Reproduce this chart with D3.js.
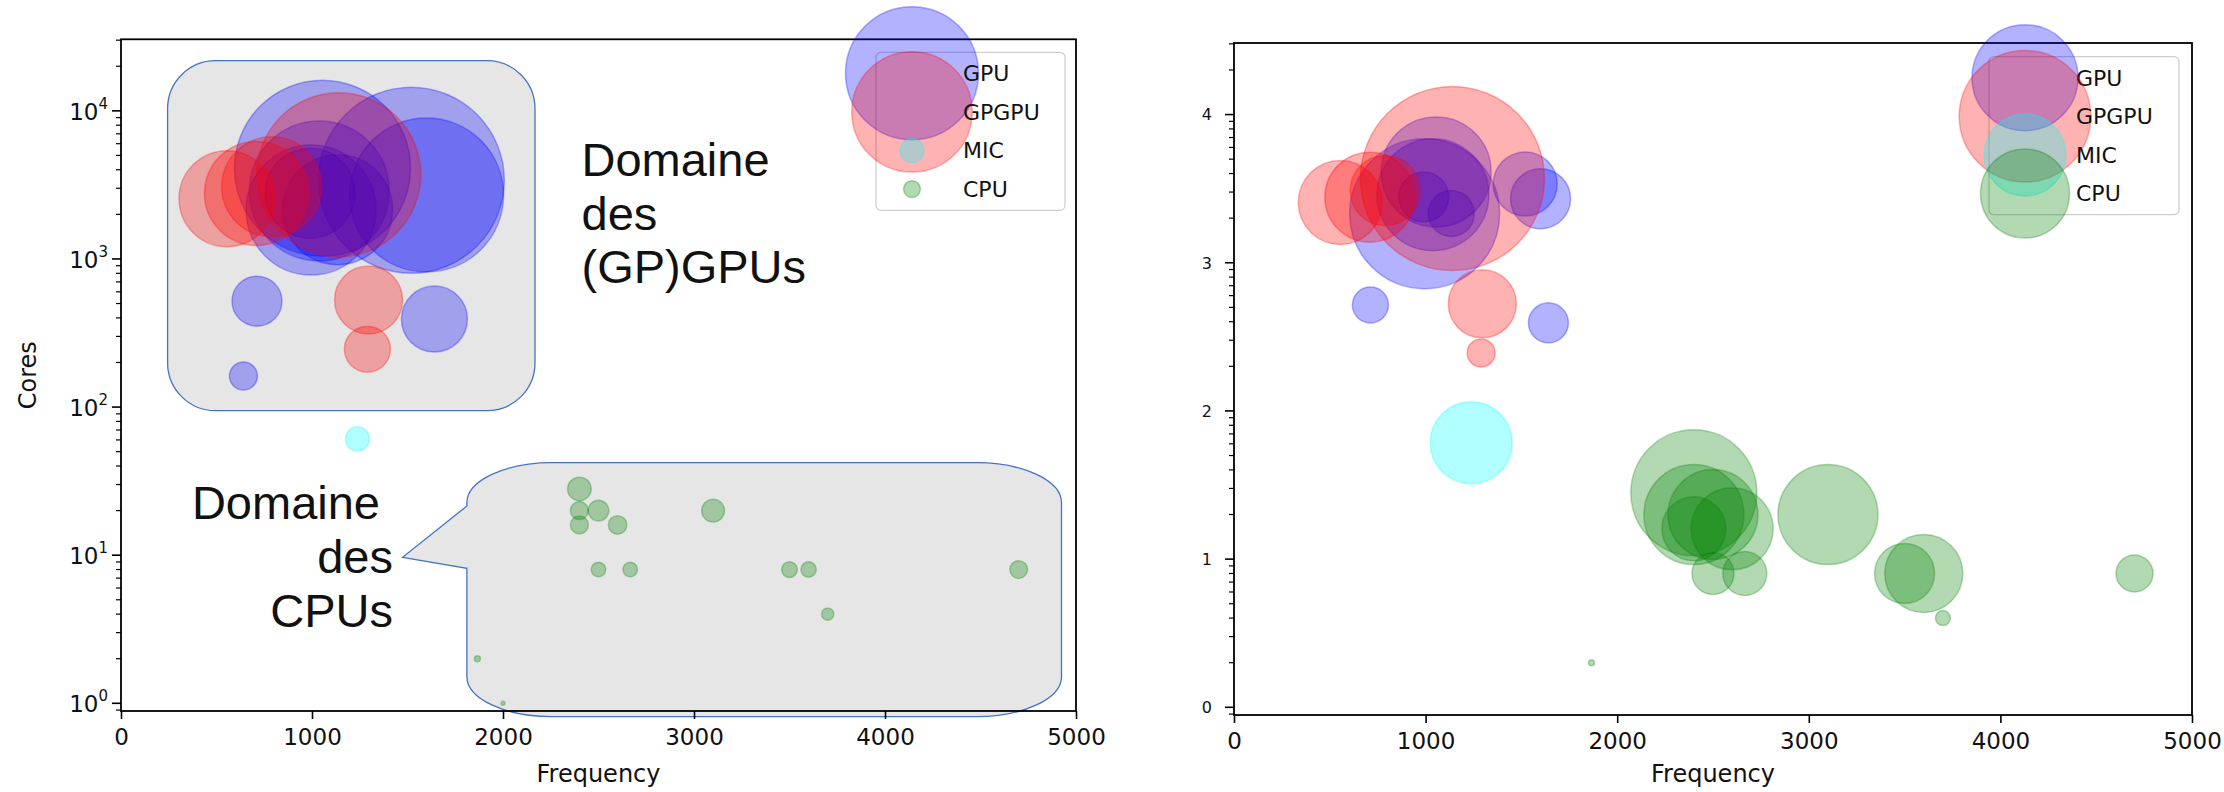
<!DOCTYPE html>
<html>
<head>
<meta charset="utf-8">
<script src="https://cdn.jsdelivr.net/npm/d3@7"></script>
<style>
  html, body { margin: 0; padding: 0; background: #fff; }
  svg { display: block; }
  text { font-family: "DejaVu Sans", sans-serif; fill: #111; }
</style>
</head>
<body>
<svg id="chart" width="2224" height="792"></svg>
<script>
// ---------- data ----------
const categories = ["GPU", "GPGPU", "MIC", "CPU"];
const xTickValues = [0, 1000, 2000, 3000, 4000, 5000];
const yTickExponents = [0, 1, 2, 3, 4];

// frequency (MHz), core count, and the bubble value of each panel
const gpuFreq   = [641, 712, 1641, 1055, 1520, 1600, 1038, 990, 1134, 995];
const gpuCores  = [162, 519, 393, 4096, 3400, 2700, 2880, 2780, 2150, 2140];
const gpuLeft   = [196, 625, 1089, 7744, 8649, 5929, 4900, 2025, 3025, 4225];
const gpuRight  = [0, 324, 400, 3025, 1024, 900, 3136, 625, 529, 5625];

const gpgpuFreq  = [555, 709, 789, 1140, 1296, 1290];
const gpgpuCores = [2550, 2770, 3070, 3700, 528, 246];
const gpgpuLeft  = [2304, 2704, 2500, 6724, 1156, 529];
const gpgpuRight = [1764, 2025, 1225, 8464, 1156, 196];

const micFreq  = [1238];
const micCores = [61];
const micLeft  = [144];
const micRight = [1681];

const cpuFreq  = [2400, 2400, 2500, 2400, 2600, 3100, 2500, 2666, 3500, 3600, 4700, 3700, 1866, 2000];
const cpuCores = [28, 20, 20, 16, 16, 20, 8, 8, 8, 8, 8, 4, 2, 1];
const cpuLeft  = [139, 81, 108, 81, 86, 130, 53, 53, 62, 59, 79, 38, 9, 4];
const cpuRight = [3969, 2500, 2025, 1024, 1681, 2500, 441, 484, 900, 1521, 342, 56, 9, 0];

const colors = { GPU: "blue", GPGPU: "red", MIC: "cyan", CPU: "green" };

function rows(cat, f, c, a, b) {
  return f.map((d, i) => ({ cat, freq: d, cores: c[i], left: a[i], right: b[i] }));
}
const points = [].concat(
  rows("GPU", gpuFreq, gpuCores, gpuLeft, gpuRight),
  rows("GPGPU", gpgpuFreq, gpgpuCores, gpgpuLeft, gpgpuRight),
  rows("MIC", micFreq, micCores, micLeft, micRight),
  rows("CPU", cpuFreq, cpuCores, cpuLeft, cpuRight)
);

// ---------- layout ----------
const svg = d3.select("#chart");
const panels = [
  { key: "left",  x0: 121,  x1: 1076, y0: 39.3, y1: 711, expLabels: false,
    legend: { x: 876, y: 52.3, w: 189, h: 158 } },
  { key: "right", x0: 1234, x1: 2192, y0: 43,   y1: 715, expLabels: true,
    legend: { x: 1989, y: 56.7, w: 190, h: 158 } }
];
const rScale = d3.scaleSqrt().domain([0, 10000]).range([0, 100]);

// ---------- annotation shapes (drawn underneath the plot) ----------
const annot = svg.append("g");
annot.append("rect")
  .attr("x", 167.6).attr("y", 60.7).attr("width", 367.4).attr("height", 350)
  .attr("rx", 48).attr("ry", 48)
  .attr("fill", "#e6e6e6").attr("stroke", "#4472c4").attr("stroke-width", 1.3);

(function speechBubble() {
  const L = 466.9, R = 1061.5, T = 462.7, B = 716.7, rx = 85, ry = 40;
  const p = d3.path();
  p.moveTo(L + rx, T);
  p.lineTo(R - rx, T);
  p.bezierCurveTo(R - rx * 0.45, T, R, T + ry * 0.45, R, T + ry);
  p.lineTo(R, B - ry);
  p.bezierCurveTo(R, B - ry * 0.45, R - rx * 0.45, B, R - rx, B);
  p.lineTo(L + rx, B);
  p.bezierCurveTo(L + rx * 0.45, B, L, B - ry * 0.45, L, B - ry);
  p.lineTo(L, 568.3);
  p.lineTo(402.6, 557.3);
  p.lineTo(L, 506);
  p.lineTo(L, T + ry);
  p.bezierCurveTo(L, T + ry * 0.45, L + rx * 0.45, T, L + rx, T);
  p.closePath();
  annot.append("path").attr("d", p.toString())
    .attr("fill", "#e6e6e6").attr("stroke", "#4472c4").attr("stroke-width", 1.3);
})();

// ---------- panels ----------
panels.forEach(P => {
  const g = svg.append("g");
  const x = d3.scaleLinear().domain([0, 5000]).range([P.x0, P.x1]);
  const y = d3.scaleLog().domain([Math.pow(10, -0.052), Math.pow(10, 4.483)]).range([P.y1, P.y0]);

  const clipId = "clip-" + P.key;
  g.append("clipPath").attr("id", clipId).append("rect")
    .attr("x", P.x0).attr("y", P.y0).attr("width", P.x1 - P.x0).attr("height", P.y1 - P.y0);

  // bubbles, one layer per category in legend order
  const bub = g.append("g").attr("clip-path", `url(#${clipId})`);
  categories.forEach(cat => {
    bub.append("g").selectAll("circle")
      .data(points.filter(d => d.cat === cat && d[P.key] > 0))
      .join("circle")
      .attr("cx", d => x(d.freq))
      .attr("cy", d => y(d.cores))
      .attr("r", d => rScale(d[P.key]))
      .attr("fill", colors[cat]).attr("fill-opacity", 0.3)
      .attr("stroke", colors[cat]).attr("stroke-opacity", 0.3).attr("stroke-width", 1.5);
  });

  // x axis
  const xAxis = d3.axisBottom(x).tickValues(xTickValues).tickSize(8).tickPadding(10).tickFormat(d3.format("d"));
  const gx = g.append("g").attr("transform", `translate(0,${P.y1})`).call(xAxis);
  gx.select(".domain").remove();
  gx.selectAll(".tick line").attr("stroke", "#000").attr("stroke-width", 1.6);
  gx.selectAll(".tick text").attr("font-size", 23).attr("font-family", "DejaVu Sans").attr("fill", "#111");

  // y axis (log): majors at powers of ten, minors in between
  const [lo, hi] = y.domain();
  const minors = [];
  for (let k = -1; k <= 4; k++) for (let m = 2; m <= 9; m++) {
    const v = m * Math.pow(10, k);
    if (v >= lo && v <= hi) minors.push(v);
  }
  const gy = g.append("g");
  gy.selectAll("line.minor").data(minors).join("line")
    .attr("x1", P.x0 - 5).attr("x2", P.x0)
    .attr("y1", d => y(d)).attr("y2", d => y(d))
    .attr("stroke", "#000").attr("stroke-width", 1.2);
  const majors = yTickExponents.map(e => Math.pow(10, e));
  gy.selectAll("line.major").data(majors).join("line")
    .attr("x1", P.x0 - 9).attr("x2", P.x0)
    .attr("y1", d => y(d)).attr("y2", d => y(d))
    .attr("stroke", "#000").attr("stroke-width", 1.6);
  const labels = gy.selectAll("text.ylab").data(yTickExponents).join("text")
    .attr("text-anchor", "end")
    .attr("y", e => y(Math.pow(10, e)));
  if (P.expLabels) {
    labels.attr("x", P.x0 - 22).attr("dy", "0.36em").attr("font-size", 16).text(e => String(e));
  } else {
    labels.attr("x", P.x0 - 13).attr("dy", "0.4em").attr("font-size", 23);
    labels.append("tspan").text("10");
    labels.append("tspan").attr("font-size", 15).attr("dy", "-0.75em").text(e => String(e));
  }

  // spines
  g.append("rect").attr("x", P.x0).attr("y", P.y0)
    .attr("width", P.x1 - P.x0).attr("height", P.y1 - P.y0)
    .attr("fill", "none").attr("stroke", "#000").attr("stroke-width", 1.8);

  // axis titles
  g.append("text").attr("x", (P.x0 + P.x1) / 2).attr("y", 782)
    .attr("text-anchor", "middle").attr("font-size", 24).text("Frequency");
  if (!P.expLabels) {
    g.append("text").attr("transform", `translate(36,${(P.y0 + P.y1) / 2}) rotate(-90)`)
      .attr("text-anchor", "middle").attr("font-size", 24).text("Cores");
  }

  // legend: marker area is the mean of the largest and smallest bubble of each category
  const Lg = P.legend;
  const lg = g.append("g");
  lg.append("rect").attr("x", Lg.x).attr("y", Lg.y).attr("width", Lg.w).attr("height", Lg.h)
    .attr("rx", 5).attr("fill", "#fff").attr("fill-opacity", 0.8)
    .attr("stroke", "#cfcfcf").attr("stroke-width", 1.3);
  categories.forEach((cat, i) => {
    const vals = points.filter(d => d.cat === cat).map(d => d[P.key]);
    const area = (d3.max(vals) + d3.min(vals)) / 2;
    const cy = Lg.y + 21 + i * 38.6;
    lg.append("circle").attr("cx", Lg.x + 36).attr("cy", cy).attr("r", rScale(area))
      .attr("fill", colors[cat]).attr("fill-opacity", 0.3)
      .attr("stroke", colors[cat]).attr("stroke-opacity", 0.3).attr("stroke-width", 1.5);
    lg.append("text").attr("x", Lg.x + 87).attr("y", cy).attr("dy", "0.36em")
      .attr("font-size", 22).text(cat);
  });
});

// ---------- annotation text ----------
const big = svg.append("g").attr("font-size", 47);
[["Domaine", 176], ["des", 229.5], ["(GP)GPUs", 283]].forEach(([t, yy]) => {
  big.append("text").attr("x", 581.5).attr("y", yy).style("font-family", "Liberation Sans").attr("fill", "#000").text(t);
});
[["Domaine", 380, 518.5], ["des", 393, 572.5], ["CPUs", 393, 626.5]].forEach(([t, xx, yy]) => {
  big.append("text").attr("x", xx).attr("y", yy).attr("text-anchor", "end")
    .style("font-family", "Liberation Sans").attr("fill", "#000").text(t);
});
</script>
</body>
</html>
